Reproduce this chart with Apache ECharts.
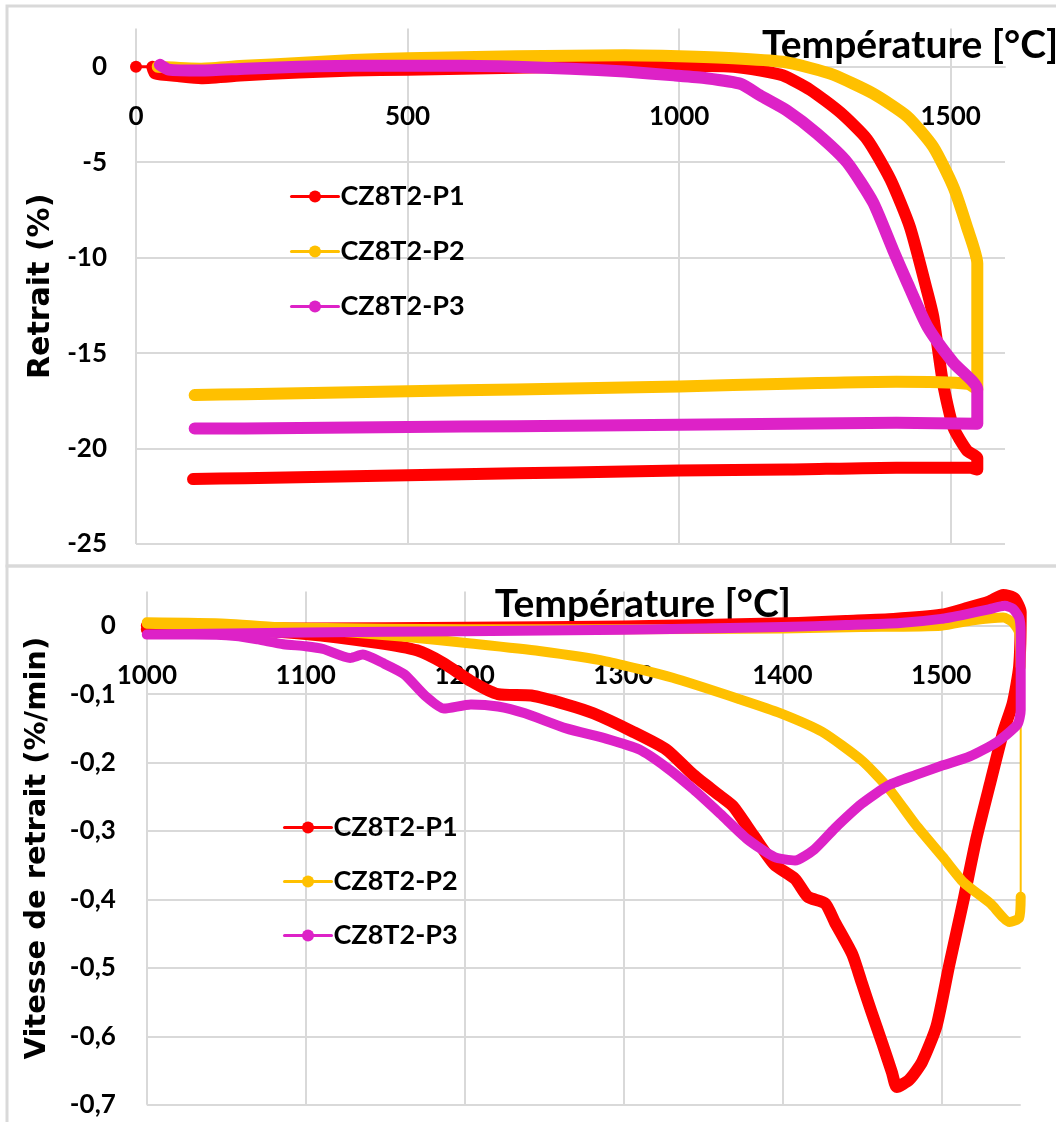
<!DOCTYPE html>
<html>
<head>
<meta charset="utf-8">
<script src="https://cdn.jsdelivr.net/npm/echarts@6/dist/echarts.min.js"></script>
<style>
html,body{margin:0;padding:0;background:#fff;}
#main{width:1056px;height:1122px;}
</style>
</head>
<body>
<div id="main"></div>
<script>
// ---------- Series names ----------
const seriesNames = ['CZ8T2-P1', 'CZ8T2-P2', 'CZ8T2-P3'];
const seriesColors = ['#FF0000', '#FFC000', '#DD22C7'];

// ---------- Top chart: Retrait (%) vs Température ----------
const topTickLabelsX = [0, 500, 1000, 1500];
const topTickLabelsY = [0, -5, -10, -15, -20, -25];

const topP1T = [0, 30, 35, 80, 120, 200, 300, 400, 500, 600, 700, 800, 900, 1000, 1100, 1150, 1191, 1241, 1297, 1346, 1389, 1425, 1457, 1468, 1486, 1505, 1530, 1549, 1549, 1536, 1400, 1200, 1000, 800, 600, 400, 200, 105];
const topP1V = [0, 0, -0.35, -0.5, -0.6, -0.45, -0.3, -0.2, -0.15, -0.1, -0.05, 0, 0.05, 0.05, 0, -0.2, -0.45, -1.2, -2.4, -3.8, -5.9, -8.4, -11.8, -13.1, -16.6, -18.9, -20.1, -20.5, -21.1, -21.0, -21.0, -21.1, -21.15, -21.25, -21.35, -21.45, -21.55, -21.6];

const topP2T = [40, 120, 200, 300, 400, 500, 700, 900, 1000, 1100, 1191, 1240, 1284, 1357, 1420, 1468, 1505, 1530, 1549, 1549, 1530, 1400, 1200, 1000, 800, 600, 400, 200, 108];
const topP2V = [0, -0.1, 0.05, 0.2, 0.35, 0.45, 0.55, 0.6, 0.55, 0.45, 0.26, -0.05, -0.42, -1.4, -2.6, -4.2, -6.3, -8.4, -10.3, -16.9, -16.6, -16.5, -16.6, -16.75, -16.85, -16.95, -17.05, -17.15, -17.2];

const topP3T = [44, 60, 120, 200, 300, 400, 500, 600, 700, 800, 900, 990, 1050, 1114, 1149, 1199, 1254, 1309, 1357, 1394, 1420, 1457, 1505, 1549, 1549, 1400, 1200, 1000, 800, 600, 400, 200, 108];
const topP3V = [0.1, -0.15, -0.2, -0.1, 0, 0.05, 0.05, 0.05, 0, -0.1, -0.25, -0.45, -0.6, -0.9, -1.5, -2.3, -3.5, -5.0, -7.1, -9.6, -11.3, -13.6, -15.5, -16.9, -18.7, -18.65, -18.7, -18.75, -18.8, -18.85, -18.9, -18.95, -18.95];

// ---------- Bottom chart: Vitesse de retrait (%/min) vs Température ----------
const botTickLabelsX = [1000, 1100, 1200, 1300, 1400, 1500];
const botTickLabelsY = [0, -0.1, -0.2, -0.3, -0.4, -0.5, -0.6, -0.7];

const botP1T = [1000, 1050, 1100, 1145, 1170, 1187, 1204, 1221, 1242, 1264, 1281, 1306, 1327, 1344, 1361, 1369, 1382, 1395, 1408, 1416, 1427, 1433, 1444, 1450, 1456, 1463, 1469, 1472, 1480, 1488, 1497, 1505, 1514, 1522, 1531, 1539, 1545, 1549, 1550, 1546, 1539, 1530, 1515, 1500, 1470, 1440, 1410, 1350, 1300, 1200, 1100, 1000];
const botP1V = [-0.005, -0.005, -0.012, -0.025, -0.036, -0.055, -0.081, -0.1, -0.102, -0.115, -0.128, -0.155, -0.181, -0.218, -0.249, -0.264, -0.307, -0.349, -0.37, -0.396, -0.406, -0.433, -0.48, -0.522, -0.564, -0.611, -0.653, -0.674, -0.663, -0.637, -0.585, -0.496, -0.401, -0.312, -0.228, -0.155, -0.113, -0.06, 0.02, 0.04, 0.045, 0.035, 0.025, 0.016, 0.01, 0.007, 0.004, 0.001, -0.001, -0.003, -0.004, 0.0];

const botP2HeatT = [1000, 1050, 1100, 1162, 1204, 1247, 1289, 1331, 1374, 1399, 1425, 1450, 1467, 1484, 1501, 1514, 1531, 1543, 1549, 1550];
const botP2HeatV = [0.005, 0.003, -0.005, -0.016, -0.026, -0.037, -0.052, -0.076, -0.108, -0.128, -0.155, -0.197, -0.238, -0.291, -0.338, -0.375, -0.406, -0.433, -0.427, -0.396];
const botP2CoolT = [1550, 1549, 1545, 1539, 1520, 1500, 1450, 1400, 1300, 1200, 1100, 1000];
const botP2CoolV = [-0.06, -0.01, 0.005, 0.012, 0.008, 0.0, -0.002, -0.004, -0.005, -0.005, -0.003, 0.003];

const botP3T = [1000, 1030, 1056, 1070, 1086, 1100, 1111, 1128, 1136, 1149, 1162, 1175, 1187, 1204, 1221, 1238, 1264, 1289, 1310, 1327, 1344, 1361, 1378, 1395, 1408, 1420, 1433, 1450, 1467, 1484, 1501, 1518, 1535, 1548, 1550, 1550, 1549, 1545, 1540, 1530, 1516, 1500, 1474, 1440, 1400, 1300, 1200, 1100, 1000];
const botP3V = [-0.013, -0.013, -0.015, -0.02, -0.027, -0.03, -0.034, -0.047, -0.042, -0.055, -0.071, -0.102, -0.121, -0.115, -0.118, -0.128, -0.15, -0.165, -0.181, -0.207, -0.239, -0.275, -0.312, -0.338, -0.343, -0.327, -0.296, -0.26, -0.233, -0.218, -0.204, -0.191, -0.17, -0.144, -0.123, -0.01, 0.012, 0.025, 0.029, 0.024, 0.017, 0.01, 0.004, 0.001, -0.002, -0.006, -0.008, -0.01, -0.013];

// ---------- helpers ----------
const zip = (t, v) => t.map((x, i) => [x, v[i]]);
const FONT = 'Lato';
const GRID = '#d9d9d9';

function lineSeries(name, color, data, width, xi, extra) {
  return Object.assign({
    type: 'line', name: name, xAxisIndex: xi, yAxisIndex: xi,
    data: data, symbol: 'circle', symbolSize: 12, showSymbol: false,
    smooth: 0.2,
    color: color,
    lineStyle: {color: color, width: width, cap: 'round', join: 'round'},
    itemStyle: {color: color},
    animation: false, silent: true
  }, extra || {});
}

const chart = echarts.init(document.getElementById('main'), null, {renderer: 'canvas'});

const tickLabelStyle = {fontFamily: FONT, fontWeight: 'bold', fontSize: 26, color: '#000'};
const legendText = {fontFamily: FONT, fontWeight: 'bold', fontSize: 27, color: '#000', padding: [0, 0, 0, -3]};
const xNameStyle = {fontFamily: FONT, fontWeight: 'bold', fontSize: 39, color: '#000', align: 'left', verticalAlign: 'bottom', padding: [0, 0, 2, 0]};

const option = {
  animation: false,
  backgroundColor: '#fff',
  graphic: [
    {type: 'rect', shape: {x: 7, y: 6, width: 1062, height: 560}, style: {fill: 'none', stroke: GRID, lineWidth: 3}, silent: true},
    {type: 'rect', shape: {x: 7, y: 566, width: 1062, height: 570}, style: {fill: 'none', stroke: GRID, lineWidth: 3}, silent: true}
  ],
  grid: [
    {left: 136, right: 51, top: 28.6, bottom: 578, containLabel: false, outerBoundsMode: 'none'},
    {left: 146.8, right: 35.3, top: 591.5, bottom: 17.2, containLabel: false, outerBoundsMode: 'none'}
  ],
  legend: [
    {data: seriesNames, orient: 'vertical', left: 290, top: 183, padding: 0, itemWidth: 47, itemHeight: 15, itemGap: 28,
     textStyle: legendText, lineStyle: {width: 3}},
    {data: seriesNames, orient: 'vertical', left: 283, top: 814, padding: 0, itemWidth: 47, itemHeight: 15, itemGap: 27,
     textStyle: legendText, lineStyle: {width: 3}}
  ],
  xAxis: [
    {type: 'value', gridIndex: 0, min: 0, max: 1600, interval: 500,
     name: 'Température [°C]', nameLocation: 'end', nameGap: -243,
     nameTextStyle: xNameStyle,
     axisLine: {onZero: false, lineStyle: {color: GRID, width: 2}},
     axisTick: {show: false},
     axisLabel: Object.assign({margin: 37, showMaxLabel: false,
       formatter: v => topTickLabelsX.includes(v) ? String(v) : ''}, tickLabelStyle),
     splitLine: {show: true, showMaxLine: false, lineStyle: {color: GRID, width: 2}}},
    {type: 'value', gridIndex: 1, min: 1000, max: 1550, interval: 100,
     name: 'Température [°C]', nameLocation: 'end', nameGap: -526,
     nameTextStyle: xNameStyle,
     axisLine: {onZero: false, lineStyle: {color: GRID, width: 2}},
     axisTick: {show: false},
     axisLabel: Object.assign({margin: 37, showMaxLabel: false,
       formatter: v => botTickLabelsX.includes(v) ? String(v) : ''}, tickLabelStyle),
     splitLine: {show: true, showMaxLine: false, lineStyle: {color: GRID, width: 2}}}
  ],
  yAxis: [
    {type: 'value', gridIndex: 0, min: -25, max: 2, interval: 5,
     name: 'Retrait (%)', nameLocation: 'middle', nameGap: 78,
     nameTextStyle: {fontFamily: 'DejaVu Sans', fontWeight: 'bold', fontSize: 30, color: '#000'},
     axisLine: {show: false}, axisTick: {show: false},
     axisLabel: Object.assign({margin: 29, showMaxLabel: false,
       formatter: v => topTickLabelsY.includes(v) ? String(v) : ''}, tickLabelStyle),
     splitLine: {show: true, showMaxLine: false, lineStyle: {color: GRID, width: 2}}},
    {type: 'value', gridIndex: 1, min: -0.7, max: 0.05, interval: 0.1,
     name: 'Vitesse de retrait (%/min)', nameLocation: 'middle', nameGap: 95,
     nameTextStyle: {fontFamily: 'DejaVu Sans', fontWeight: 'bold', fontSize: 29, color: '#000'},
     axisLine: {show: false}, axisTick: {show: false},
     axisLabel: Object.assign({margin: 31, showMaxLabel: false,
       formatter: v => {
         const r = Math.round(v * 10) / 10;
         if (Math.abs(v - r) > 1e-6) return '';
         if (!botTickLabelsY.includes(r)) return '';
         return r === 0 ? '0' : r.toFixed(1).replace('.', ',');
       }}, tickLabelStyle),
     splitLine: {show: true, showMaxLine: false, lineStyle: {color: GRID, width: 2}}}
  ],
  series: [
    // top chart
    lineSeries(seriesNames[0], seriesColors[0], zip(topP1T.slice(0, 2), topP1V.slice(0, 2)), 3, 0,
      {showSymbol: true, smooth: false, symbolSize: (v, p) => p.dataIndex === 0 ? 12 : 0}),
    lineSeries(seriesNames[0], seriesColors[0], zip(topP1T.slice(1), topP1V.slice(1)), 12, 0),
    lineSeries(seriesNames[1], seriesColors[1], zip(topP2T, topP2V), 12, 0),
    lineSeries(seriesNames[2], seriesColors[2], zip(topP3T, topP3V), 12, 0),
    // bottom chart
    lineSeries(seriesNames[0], seriesColors[0], zip(botP1T, botP1V), 12, 1),
    lineSeries(seriesNames[1], seriesColors[1], zip(botP2HeatT, botP2HeatV), 10, 1),
    lineSeries('P2 jump', seriesColors[1],
      [[botP2HeatT[botP2HeatT.length - 1], botP2HeatV[botP2HeatV.length - 1]], [botP2CoolT[0], botP2CoolV[0]]], 2, 1,
      {symbol: 'none', smooth: false, lineStyle: {color: seriesColors[1], width: 2, cap: 'butt'}}),
    lineSeries(seriesNames[1], seriesColors[1], zip(botP2CoolT, botP2CoolV), 10, 1),
    lineSeries(seriesNames[2], seriesColors[2], zip(botP3T, botP3V), 10, 1)
  ]
};

chart.setOption(option);

// Place each x axis line at y = 0 of its own y scale (axis crosses at zero)
const offsets = [0, 1].map(i => {
  const ext = chart.getModel().getComponent('yAxis', i).axis.scale.getExtent();
  const zeroPx = chart.convertToPixel({yAxisIndex: i}, 0);
  const bottomPx = chart.convertToPixel({yAxisIndex: i}, ext[0]);
  return -(bottomPx - zeroPx);
});
chart.setOption({xAxis: [{offset: offsets[0]}, {offset: offsets[1]}]});
</script>
</body>
</html>
